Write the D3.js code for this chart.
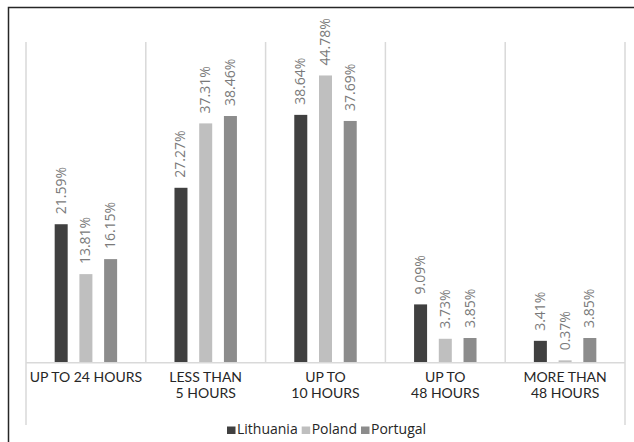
<!DOCTYPE html>
<html><head><meta charset="utf-8">
<script src="https://cdn.jsdelivr.net/npm/d3@7"></script>
<style>
html,body{margin:0;padding:0;background:#fff;}
svg{display:block;font-family:Lato, "Open Sans", sans-serif;}
</style></head>
<body>
<svg id="chart" width="634" height="442"></svg>
<script>
const categories = [["UP TO 24 HOURS"], ["LESS THAN", "5 HOURS"], ["UP TO", "10 HOURS"], ["UP TO", "48 HOURS"], ["MORE THAN", "48 HOURS"]];
const seriesNames = ["Lithuania", "Poland", "Portugal"];
const lithuania = [21.59, 27.27, 38.64, 9.09, 3.41];
const poland = [13.81, 37.31, 44.78, 3.73, 0.37];
const portugal = [16.15, 38.46, 37.69, 3.85, 3.85];
const colors = ["#404040", "#bfbfbf", "#8c8c8c"];
const series = [lithuania, poland, portugal];

const svg = d3.select("#chart");
// frame
svg.append("path").attr("d", "M8.5,442 L8.5,7.5 L634,7.5").attr("fill", "none").attr("stroke", "#262626").attr("stroke-width", 1.5);

const x0 = d3.scaleBand().domain(d3.range(categories.length)).range([26, 625]).padding(0);
const x1 = d3.scaleBand().domain(d3.range(series.length)).range([0, x0.bandwidth()]).paddingInner(0.474).paddingOuter(1.16);
const y = d3.scaleLinear().domain([0, 50]).range([362.7, 42]);

// gridlines (category separators)
const seps = d3.range(categories.length + 1).map(i => 26 + i * x0.bandwidth());
svg.append("g").selectAll("line").data(seps).join("line")
  .attr("x1", d => d).attr("x2", d => d)
  .attr("y1", 42)
  .attr("y2", (d, i) => (i === 0 || i === seps.length - 1) ? 425 : 362.7)
  .attr("stroke", "#d9d9d9").attr("stroke-width", 1.5);

// bars
const g = svg.append("g");
series.forEach((vals, si) => {
  g.selectAll(null).data(vals).join("rect")
    .attr("x", (d, i) => x0(i) + x1(si))
    .attr("width", x1.bandwidth())
    .attr("y", d => y(d))
    .attr("height", d => y(0) - y(d))
    .attr("fill", colors[si]);
  g.selectAll(null).data(vals).join("text")
    .attr("transform", (d, i) => `translate(${x0(i) + x1(si) + x1.bandwidth() / 2 + 4.5},${y(d) - 10}) rotate(-90)`)
    .attr("font-family", "'Open Sans', sans-serif")
    .attr("font-size", 14).attr("fill", "#7a7a7a")
    .text(d => d.toFixed(2) + "%");
});

// baseline
svg.append("line").attr("x1", 26).attr("x2", 625).attr("y1", 362.7).attr("y2", 362.7)
  .attr("stroke", "#d9d9d9").attr("stroke-width", 1.5);

// category labels
const cl = svg.append("g");
categories.forEach((lines, i) => {
  const t = cl.append("text").attr("text-anchor", "middle").attr("font-size", 14).attr("fill", "#262626")
    .attr("x", x0(i) + x0.bandwidth() / 2).attr("y", 382);
  lines.forEach((ln, j) => t.append("tspan").attr("x", x0(i) + x0.bandwidth() / 2).attr("dy", j === 0 ? 0 : 16).text(ln));
});

// legend
const legend = svg.append("g").attr("font-family", "'Open Sans', sans-serif");
let lx = 227;
seriesNames.forEach((nm, i) => {
  legend.append("rect").attr("x", lx).attr("y", 426.5).attr("width", 8.5).attr("height", 7.5).attr("fill", colors[i]);
  const t = legend.append("text").attr("x", lx + 10).attr("y", 434).attr("font-size", 14).attr("fill", "#262626").text(nm);
  lx += 10 + t.node().getComputedTextLength() + 4;
});
</script>
</body></html>
